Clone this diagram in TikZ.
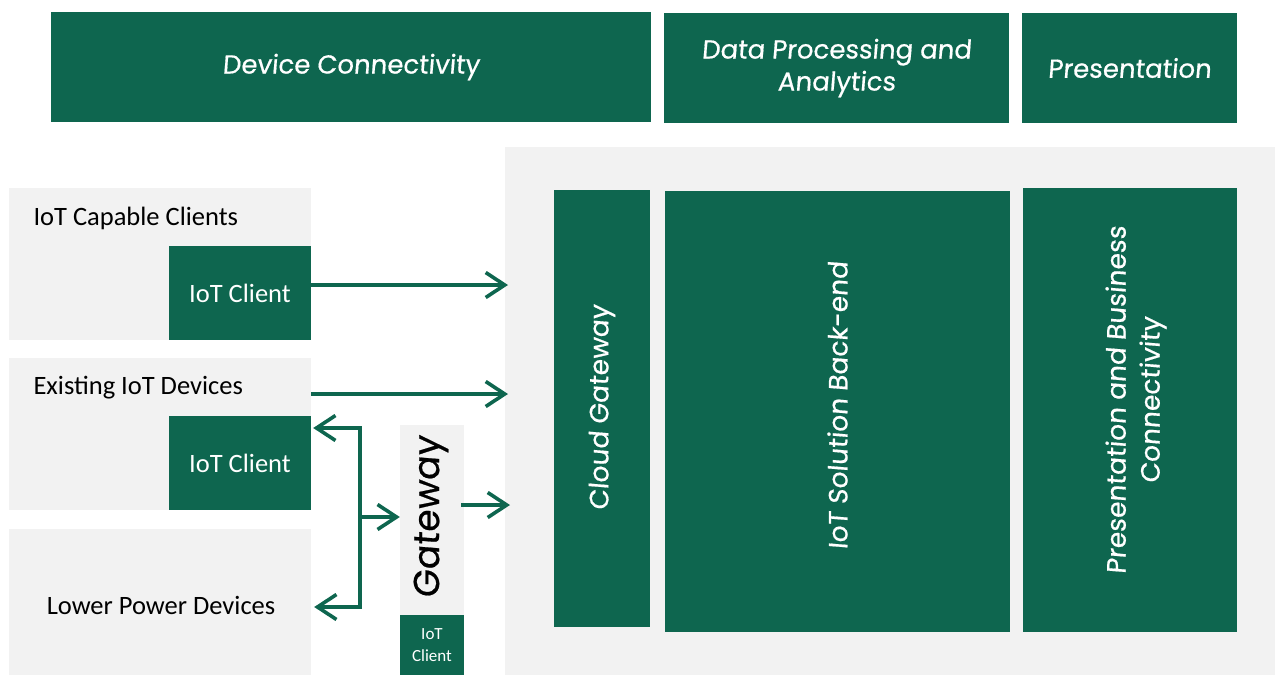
\documentclass[tikz,border=0pt]{standalone}
\usepackage{fontspec}
\setmainfont{Carlito}
\newfontfamily\hand[FakeSlant=0.08, FakeBold=0.6]{Poppins}
\usetikzlibrary{arrows.meta}
\definecolor{gr}{HTML}{0E664F}
\definecolor{lg}{HTML}{F2F2F2}
\tikzset{
  gbox/.style={fill=gr, draw=none, text=white, inner sep=0pt, align=center},
  lbox/.style={fill=lg, draw=none, inner sep=0pt},
  hd/.style={font=\hand\fontsize{26}{32}\selectfont},
  vt/.style={font=\hand\fontsize{26.5}{34}\selectfont, rotate=90},
  bt/.style={font=\fontsize{26.5}{30}\selectfont},
  arr/.style={draw=gr, line width=3.6pt, -{Straight Barb[length=19pt,width=25pt]}},
  ln/.style={draw=gr, line width=3.6pt}
}
\begin{document}
\begin{tikzpicture}[x=1pt,y=-1pt]
\useasboundingbox (0,0) rectangle (1275,675);
% headers
\node[gbox, hd, minimum width=600, minimum height=110] (hdc) at (351,67) {Device Connectivity};
\node[gbox, hd, minimum width=345, minimum height=110] (hdp) at (836.5,68) {Data Processing and\\Analytics};
\node[gbox, hd, minimum width=215, minimum height=110] (hpr) at (1129.5,68) {Presentation};
% cloud panel
\node[lbox, minimum width=770, minimum height=528] (panel) at (890,411) {};
\node[gbox, minimum width=96, minimum height=437] (cg) at (602,408.5) {};
\node[vt, text=white] at ([yshift=1pt]cg.center) {Cloud Gateway};
\node[gbox, minimum width=345, minimum height=441] (be) at (837.5,411.5) {};
\node[vt, text=white] at ([yshift=6pt]be.center) {IoT Solution Back-end};
\node[gbox, minimum width=214, minimum height=444] (pbc) at (1130,410) {};
\node[vt, text=white, align=center] at ([xshift=6pt,yshift=10pt]pbc.center) {Presentation and Business\\Connectivity};
% left devices
\node[lbox, minimum width=302, minimum height=152] (cap) at (160,264) {};
\node[bt, anchor=west] (capt) at (30,218) {IoT Capable Clients};
\node[gbox, bt, minimum width=142, minimum height=94] (ic1) at (240,293) {IoT Client};
\node[lbox, minimum width=302, minimum height=152] (ex) at (160,434) {};
\node[bt, anchor=west] (ext) at (30,388) {Existing IoT Devices};
\node[gbox, bt, minimum width=142, minimum height=94] (ic2) at (240,463) {IoT Client};
\node[lbox, minimum width=302, minimum height=146] (lp) at (160,602) {};
\node[bt] (lpt) at (161,605) {Lower Power Devices};
% gateway
\node[lbox, minimum width=64, minimum height=190] (gw) at (432,520) {};
\node[font=\hand\fontsize{36}{40}\selectfont, rotate=90] (gwt) at (431,517) {Gateway};
\node[gbox, font=\fontsize{17}{22}\selectfont, minimum width=64, minimum height=60] (ic3) at (432,645) {IoT\\Client};
% arrows
\coordinate (t1) at (508,285);
\coordinate (t2) at (508,394);
\coordinate (t3) at (510,505);
\coordinate (bt1) at (360,428);
\coordinate (bt2) at (360,607);
\coordinate (bm) at (360,517);
\draw[arr] (ic1.east |- t1) -- (t1);
\draw[arr] (ex.east |- t2) -- (t2);
\draw[arr] ([xshift=-3pt]gw.east |- t3) -- (t3);
\draw[ln] ([yshift=-1.8pt]bt1) -- ([yshift=1.8pt]bt2);
\draw[arr] ([xshift=1.8pt]bt1) -- ([xshift=2pt]ic2.east |- bt1);
\draw[arr] ([xshift=1.8pt]bt2) -- ([xshift=3pt]lp.east |- bt2);
\draw[arr] (bm) -- (gw.west |- bm);
\end{tikzpicture}
\end{document}
